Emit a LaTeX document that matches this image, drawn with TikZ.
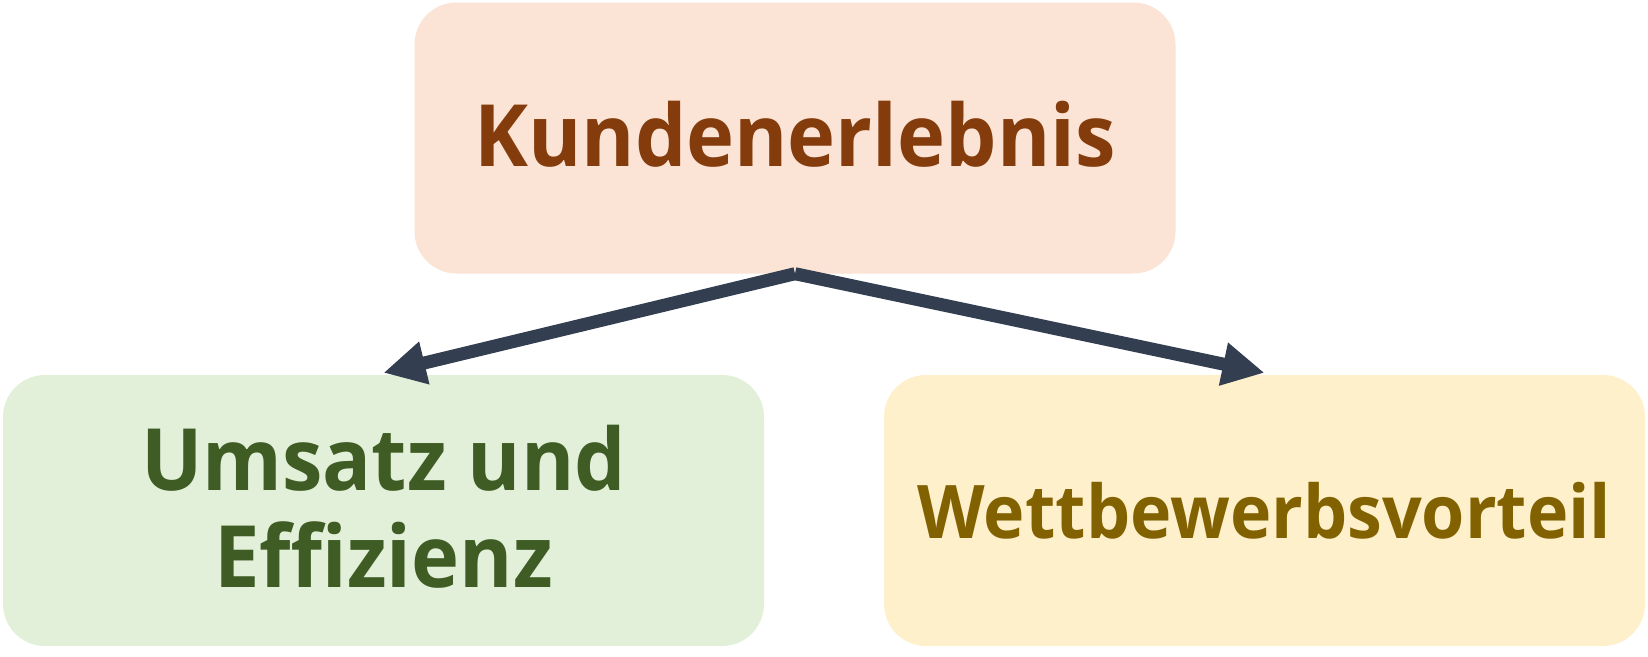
\documentclass[tikz,border=0pt]{standalone}
\usepackage{fontspec}
\setmainfont{Open Sans}[FakeStretch=0.945]
\usetikzlibrary{arrows.meta}
\definecolor{topfill}{HTML}{FBE4D5}
\definecolor{toptext}{HTML}{843C0C}
\definecolor{leftfill}{HTML}{E2EFD9}
\definecolor{lefttext}{HTML}{3E5C24}
\definecolor{rightfill}{HTML}{FEF0CA}
\definecolor{righttext}{HTML}{826200}
\definecolor{arrowcol}{HTML}{333F50}
\tikzset{
  box/.style={rounded corners=42pt, minimum width=761pt, minimum height=271pt,
    inner sep=0pt, align=center, text depth=8pt,
    font=\bfseries\fontsize{86}{97}\selectfont},
  link/.style={draw=arrowcol, line width=13pt,
    -{Triangle[length=42pt,width=41pt]}},
}
\begin{document}
\begin{tikzpicture}[x=1pt,y=-1pt]
\useasboundingbox (0,0) rectangle (1648,656);
\node[box, fill=topfill, text=toptext] (top) at (795,138) {Kundenerlebnis};
\node[box, fill=leftfill, text=lefttext] (left) at (383.5,510.5) {Umsatz und\\Effizienz};
\node[box, fill=rightfill, text=righttext, text depth=0pt, font=\bfseries\fontsize{74}{90}\selectfont] (right) at (1264.5,510.5) {Wettbewerbsvorteil};
\draw[link] (top.south) -- ([yshift=2pt]left.north);
\draw[link] (top.south) -- ([yshift=2pt]right.north);
\end{tikzpicture}
\end{document}
